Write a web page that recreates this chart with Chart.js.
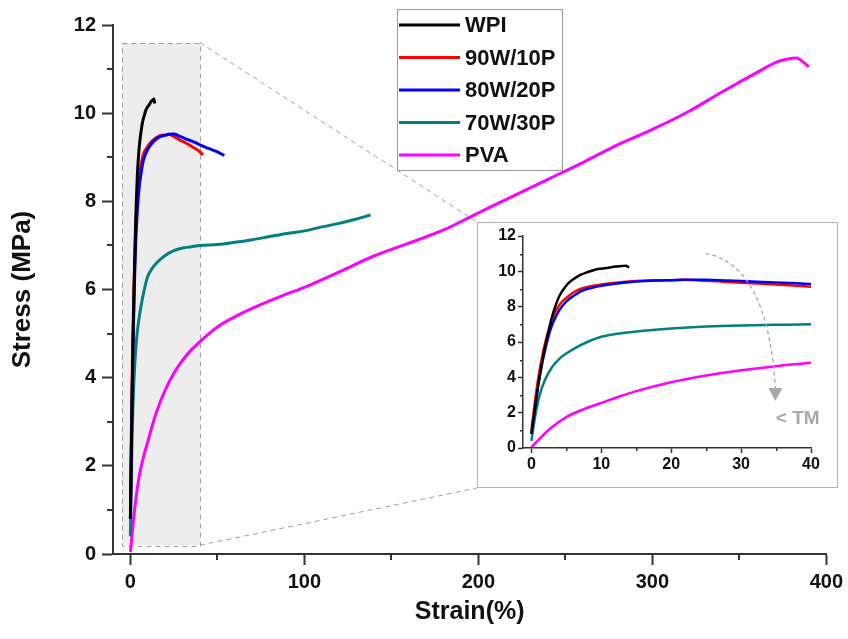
<!DOCTYPE html>
<html><head><meta charset="utf-8">
<script src="https://cdn.jsdelivr.net/npm/chart.js@4.4.0/dist/chart.umd.min.js"></script>
<style>
html,body{margin:0;padding:0;background:#fff;}
#wrap{position:relative;width:848px;height:639px;overflow:hidden;}
#main{position:absolute;left:0;top:0;}
#insetBox{position:absolute;left:477px;top:222px;width:359px;height:264px;border:1px solid #b4b4b4;background:#fff;}
#inset{position:absolute;left:0;top:0;}
</style></head><body>
<div id="wrap">
<canvas id="main" width="848" height="639"></canvas>
<div id="insetBox"><canvas id="inset" width="359" height="264"></canvas></div>
</div>
<script>
// ---- data ----
const seriesNames = ['WPI', '90W/10P', '80W/20P', '70W/30P', 'PVA'];
const seriesColors = ['#000000', '#ff0000', '#0000ff', '#008080', '#ff00ff'];

const wpiStrain = [0, 0.5, 1, 1.5, 2, 2.5, 3, 3.5, 4, 5, 6, 7, 8, 9, 10, 11, 12, 13, 13.5, 14];
const wpiStress = [0.8, 2.2, 3.6, 4.8, 5.8, 6.7, 7.5, 8.1, 8.6, 9.2, 9.55, 9.8, 9.95, 10.08, 10.15, 10.2, 10.27, 10.3, 10.32, 10.22];

const p10Strain = [0, 0.5, 1, 1.5, 2, 2.5, 3, 4, 5, 6, 7, 8, 10, 12, 15, 18, 20, 22, 25, 28, 30, 33, 35, 38, 40, 41.7];
const p10Stress = [1.0, 2.6, 4.0, 5.1, 6.0, 6.7, 7.3, 8.1, 8.5, 8.8, 9.0, 9.12, 9.25, 9.35, 9.45, 9.5, 9.5, 9.52, 9.47, 9.4, 9.36, 9.3, 9.25, 9.18, 9.12, 9.05];

const p20Strain = [0, 0.5, 1, 1.5, 2, 2.5, 3, 4, 5, 6, 7, 8, 10, 12, 15, 18, 20, 22, 25, 28, 30, 33, 35, 38, 40, 45, 50, 54];
const p20Stress = [0.8, 2.2, 3.6, 4.7, 5.6, 6.4, 7.0, 7.8, 8.3, 8.6, 8.85, 9.0, 9.18, 9.3, 9.42, 9.48, 9.5, 9.52, 9.53, 9.48, 9.45, 9.4, 9.37, 9.32, 9.28, 9.2, 9.12, 9.04];

const p30Strain = [0, 0.5, 1, 1.5, 2, 3, 4, 5, 6, 8, 10, 12, 15, 20, 25, 30, 35, 40, 50, 60, 70, 80, 90, 100, 110, 120, 130, 138];
const p30Stress = [0.4, 1.7, 2.7, 3.4, 3.9, 4.6, 5.05, 5.35, 5.6, 6.0, 6.3, 6.45, 6.6, 6.77, 6.88, 6.94, 6.97, 7.0, 7.02, 7.07, 7.13, 7.2, 7.27, 7.33, 7.42, 7.5, 7.6, 7.69];

const pvaStrain = [0, 1, 2, 3, 5, 7.5, 10, 12.5, 15, 20, 25, 30, 35, 40, 50, 60, 70, 80, 90, 100, 120, 140, 160, 180, 200, 220, 240, 260, 280, 300, 320, 340, 360, 372, 378, 383, 386, 390];
const pvaStress = [0.05, 0.45, 0.85, 1.2, 1.75, 2.2, 2.55, 2.9, 3.22, 3.72, 4.1, 4.4, 4.63, 4.82, 5.15, 5.38, 5.57, 5.74, 5.9, 6.05, 6.4, 6.76, 7.05, 7.35, 7.74, 8.12, 8.5, 8.88, 9.28, 9.63, 10.02, 10.48, 10.92, 11.17, 11.23, 11.25, 11.18, 11.05];

const mainXTicks = [0, 100, 200, 300, 400];
const mainXMinor = [50, 150, 250, 350];
const mainYMinor = [1, 3, 5, 7, 9, 11];
const insetXTicks = [0, 10, 20, 30, 40];
const insetXMinor = [5, 15, 25, 35];
const insetYMinor = [1, 3, 5, 7, 9, 11];

const zoomRegion = {xMin: -5, xMax: 40, yMin: 0.2, yMax: 11.6};

const strains = [wpiStrain, p10Strain, p20Strain, p30Strain, pvaStrain];
const stresses = [wpiStress, p10Stress, p20Stress, p30Stress, pvaStress];
const drawOrder = [0, 2, 1, 3, 4];

const FONT = '"Liberation Sans", Arial, Helvetica, sans-serif';

function buildDatasets(width) {
  return seriesNames.map((name, i) => ({
    label: name,
    data: strains[i].map((x, k) => ({x: x, y: stresses[i][k]})),
    borderColor: seriesColors[i],
    backgroundColor: seriesColors[i],
    borderWidth: width,
    pointRadius: 0,
    fill: false,
    cubicInterpolationMode: 'monotone',
    order: drawOrder[i]
  }));
}

const minorTicks = {
  id: 'minorTicks',
  afterDraw(chart, args, o) {
    const {ctx, chartArea, scales: {x, y}} = chart;
    ctx.save();
    ctx.strokeStyle = o.color;
    ctx.lineWidth = o.width;
    o.x.forEach(v => {
      const px = Math.round(x.getPixelForValue(v)) + 0.5 * (o.width % 2);
      ctx.beginPath(); ctx.moveTo(px, chartArea.bottom); ctx.lineTo(px, chartArea.bottom + o.len); ctx.stroke();
    });
    o.y.forEach(v => {
      const py = Math.round(y.getPixelForValue(v)) + 0.5 * (o.width % 2);
      ctx.beginPath(); ctx.moveTo(chartArea.left, py); ctx.lineTo(chartArea.left - o.len, py); ctx.stroke();
    });
    ctx.restore();
  }
};

const zoomBox = {
  id: 'zoomBox',
  beforeDatasetsDraw(chart) {
    const {ctx, scales: {x, y}} = chart;
    const l = x.getPixelForValue(zoomRegion.xMin), r = x.getPixelForValue(zoomRegion.xMax);
    const t = y.getPixelForValue(zoomRegion.yMax), b = y.getPixelForValue(zoomRegion.yMin);
    const box = document.getElementById('insetBox');
    const bl = box.offsetLeft, bt = box.offsetTop, bb = box.offsetTop + box.offsetHeight;
    ctx.save();
    ctx.fillStyle = '#ededed';
    ctx.fillRect(l, t, r - l, b - t);
    ctx.strokeStyle = '#a0a0a0';
    ctx.lineWidth = 1;
    ctx.setLineDash([5, 4]);
    ctx.strokeRect(Math.round(l) + 0.5, Math.round(t) + 0.5, Math.round(r - l), Math.round(b - t));
    ctx.beginPath();
    ctx.moveTo(r, t); ctx.lineTo(bl, bt);
    ctx.moveTo(r, b); ctx.lineTo(bl, bb);
    ctx.stroke();
    ctx.restore();
  }
};

const legendBox = {
  id: 'legendBox',
  afterDraw(chart, args, o) {
    const ctx = chart.ctx;
    ctx.save();
    ctx.fillStyle = '#fff';
    ctx.fillRect(o.left, o.top, o.width, o.height);
    ctx.strokeStyle = '#999';
    ctx.lineWidth = 1;
    ctx.strokeRect(o.left + 0.5, o.top + 0.5, o.width, o.height);
    ctx.font = 'bold 22px ' + FONT;
    ctx.textBaseline = 'middle';
    seriesNames.forEach((name, i) => {
      const yy = o.top + o.first + i * o.gap;
      ctx.strokeStyle = seriesColors[i];
      ctx.lineWidth = 3;
      ctx.beginPath(); ctx.moveTo(o.left + 2, yy); ctx.lineTo(o.left + 63, yy); ctx.stroke();
      ctx.fillStyle = '#111';
      ctx.fillText(name, o.left + 68, yy + 1);
    });
    ctx.restore();
  }
};

const tmArrow = {
  id: 'tmArrow',
  afterDatasetsDraw(chart, args, o) {
    const {ctx, scales: {x, y}} = chart;
    const sx = x.getPixelForValue(o.start[0]), sy = y.getPixelForValue(o.start[1]);
    const cx = x.getPixelForValue(o.ctrl[0]), cy = y.getPixelForValue(o.ctrl[1]);
    const ex = x.getPixelForValue(o.end[0]), ey = y.getPixelForValue(o.end[1]);
    ctx.save();
    ctx.strokeStyle = '#a8a8a8';
    ctx.lineWidth = 1.3;
    ctx.setLineDash([4, 3]);
    ctx.beginPath(); ctx.moveTo(sx, sy); ctx.quadraticCurveTo(cx, cy, ex, ey); ctx.stroke();
    ctx.setLineDash([]);
    ctx.fillStyle = '#a8a8a8';
    ctx.beginPath();
    ctx.moveTo(ex - 7, ey); ctx.lineTo(ex + 7, ey); ctx.lineTo(ex, ey + 13); ctx.closePath(); ctx.fill();
    ctx.font = 'bold 19px ' + FONT;
    ctx.textAlign = 'center'; ctx.textBaseline = 'middle';
    ctx.fillText(o.text, x.getPixelForValue(o.textAt[0]), y.getPixelForValue(o.textAt[1]));
    ctx.restore();
  }
};

new Chart(document.getElementById('main'), {
  type: 'line',
  data: {datasets: buildDatasets(3)},
  plugins: [zoomBox, minorTicks, legendBox],
  options: {
    responsive: false,
    animation: false,
    layout: {padding: {top: 25, right: 19, left: 0, bottom: 0}},
    plugins: {
      legend: {display: false},
      tooltip: {enabled: false},
      minorTicks: {x: mainXMinor, y: mainYMinor, len: 6, width: 2, color: '#333'},
      legendBox: {left: 397, top: 9, width: 165, height: 161, first: 16, gap: 32.5}
    },
    scales: {
      x: {
        type: 'linear', min: -10, max: 400,
        afterBuildTicks: s => { s.ticks = mainXTicks.map(v => ({value: v})); },
        afterFit: s => { s.height = 85; },
        grid: {drawOnChartArea: false, tickLength: 11, tickWidth: 2, tickColor: '#333'},
        border: {color: '#333', width: 2},
        ticks: {color: '#111', padding: 5, maxRotation: 0, font: {family: FONT, size: 20, weight: 'bold'}},
        title: {display: true, text: 'Strain(%)', color: '#111', font: {family: FONT, size: 25, weight: 'bold'}, padding: {top: 0, bottom: 12}}
      },
      y: {
        type: 'linear', min: 0, max: 12,
        afterFit: s => { s.width = 113; },
        grid: {drawOnChartArea: false, tickLength: 11, tickWidth: 2, tickColor: '#333'},
        border: {color: '#333', width: 2},
        ticks: {stepSize: 2, color: '#111', padding: 6, font: {family: FONT, size: 20, weight: 'bold'}},
        title: {display: true, text: 'Stress (MPa)', color: '#111', font: {family: FONT, size: 26, weight: 'bold'}, padding: {top: 7, bottom: 0}}
      }
    }
  }
});

new Chart(document.getElementById('inset'), {
  type: 'line',
  data: {datasets: buildDatasets(2.5)},
  plugins: [minorTicks, tmArrow],
  options: {
    responsive: false,
    animation: false,
    layout: {padding: {top: 13, right: 26, left: 0, bottom: 0}},
    plugins: {
      legend: {display: false},
      tooltip: {enabled: false},
      minorTicks: {x: insetXMinor, y: insetYMinor, len: 3, width: 1.5, color: '#333'},
      tmArrow: {start: [24.9, 11.0], ctrl: [33.8, 10.4], end: [34.9, 3.4], textAt: [38.1, 1.64], text: '< TM'}
    },
    scales: {
      x: {
        type: 'linear', min: -1.2, max: 40,
        afterBuildTicks: s => { s.ticks = insetXTicks.map(v => ({value: v})); },
        afterFit: s => { s.height = 39; },
        grid: {drawOnChartArea: false, tickLength: 5, tickWidth: 1.5, tickColor: '#333'},
        border: {color: '#333', width: 1.5},
        ticks: {color: '#111', padding: 2, maxRotation: 0, font: {family: FONT, size: 16, weight: 'bold'}}
      },
      y: {
        type: 'linear', min: 0, max: 12,
        afterFit: s => { s.width = 45; },
        grid: {drawOnChartArea: false, tickLength: 5, tickWidth: 1.5, tickColor: '#333'},
        border: {color: '#333', width: 1.5},
        ticks: {stepSize: 2, color: '#111', padding: 2, font: {family: FONT, size: 16, weight: 'bold'}}
      }
    }
  }
});
</script>
</body></html>
